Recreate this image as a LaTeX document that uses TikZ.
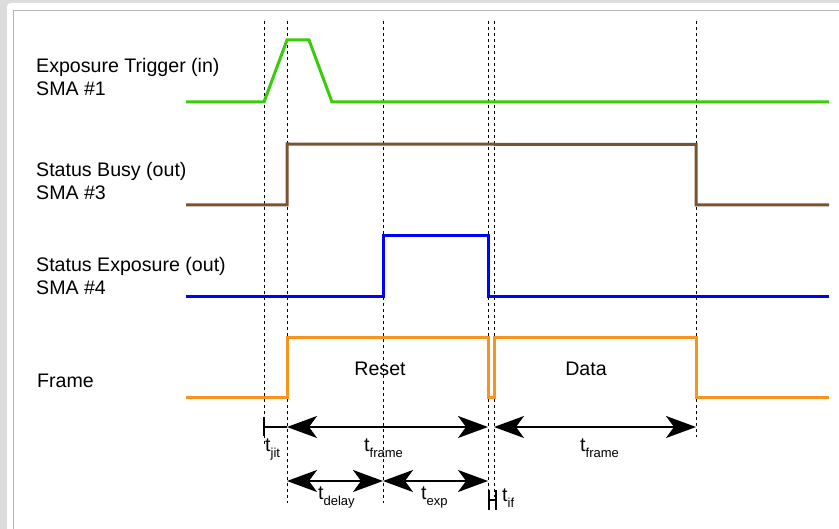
\documentclass[tikz,border=0pt]{standalone}
\usepackage{fontspec}
\setmainfont{Liberation Sans}
\usetikzlibrary{arrows.meta}
\definecolor{bggray}{RGB}{220,220,220}
\definecolor{framegray}{RGB}{180,180,180}
\definecolor{sgreen}{RGB}{56,204,10}
\definecolor{sbrown}{RGB}{122,84,48}
\definecolor{sblue}{RGB}{0,0,255}
\definecolor{sorange}{RGB}{247,148,30}
\newcommand{\tsub}[1]{t\raisebox{-0.55ex}{\fontsize{13}{13}\selectfont #1}}
\tikzset{
  sig/.style={line width=3pt, line join=miter},
  guide/.style={black, line width=0.8pt, dash pattern=on 3pt off 3pt},
  dim/.style={black, line width=2pt, {Stealth[length=30pt,width=22pt,inset=8pt]}-{Stealth[length=30pt,width=22pt,inset=8pt]}},
  lbl/.style={font=\fontsize{19.6}{23}\selectfont, align=left, inner sep=0pt},
  tlbl/.style={font=\fontsize{19.6}{23}\selectfont, inner sep=0pt, anchor=north west}
}
\begin{document}
\begin{tikzpicture}[x=1pt,y=-1pt]
\useasboundingbox (0,0) rectangle (839,529);
\fill[bggray] (0,0) rectangle (839,529);
\fill[white, rounded corners=4pt] (7,3) rectangle (850,540);
\draw[framegray, line width=1.3pt] (13.5,529) -- (13.5,10.5) -- (839,10.5);

% guides
\draw[guide] (264,21) -- (264,445);
\draw[guide] (287,21) -- (287,503);
\draw[guide] (383,21) -- (383,503);
\draw[guide] (488,21) -- (488,497);
\draw[guide] (494,21) -- (494,497);
\draw[guide] (696,21) -- (696,437);

% signals
\draw[sig, sgreen] (186,102) -- (264,102) -- (287,40) -- (309,40) -- (332,102) -- (829,102);
\draw[sig, sbrown] (186,205) -- (287,205) -- (287,144) -- (696,144.5) -- (696,205) -- (829,205);
\draw[sig, sblue] (186,297) -- (383,297) -- (383,236) -- (488,236) -- (488,297) -- (829,297);
\draw[sig, sorange] (186,398) -- (287,398) -- (287,338) -- (488,338) -- (488,398) -- (494,398) -- (494,338) -- (696,338) -- (696,398) -- (829,398);

% labels
\node[lbl, anchor=west] (l1) at (36,77) {Exposure Trigger (in)\\SMA \#1};
\node[lbl, anchor=west] (l3) at (36,181) {Status Busy (out)\\SMA \#3};
\node[lbl, anchor=west] (l4) at (36,276) {Status Exposure (out)\\SMA \#4};
\node[lbl, anchor=west] (lf) at (37,381) {Frame};
\node[lbl] (reset) at (380,369) {Reset};
\node[lbl] (data) at (586,369) {Data};

% dimension markers
\coordinate (j0) at (264,427);
\coordinate (j1) at (287,427);
\coordinate (f1) at (488,427);
\coordinate (f2) at (494,427);
\coordinate (f3) at (696,427);
\draw[black, line width=2pt] (264,417) -- (264,436);
\draw[black, line width=2pt] (j0) -- (j1);
\draw[dim] (j1) -- (f1);
\draw[dim] (f2) -- (f3);
\coordinate (d0) at (287,481);
\coordinate (d1) at (383,481);
\coordinate (d2) at (488,481);
\draw[dim] (d0) -- (d1);
\draw[dim] (d1) -- (d2);
\draw[black, line width=2.2pt] (489,490) -- (489,510) (496,490) -- (496,510) (489,500) -- (496,500);

\node[tlbl] (tjit) at (265,439) {\tsub{jit}};
\node[tlbl] (tf1) at (364,439) {\tsub{frame}};
\node[tlbl] (tf2) at (580,439) {\tsub{frame}};
\node[tlbl] (tdelay) at (318,487) {\tsub{delay}};
\node[tlbl] (texp) at (421,487) {\tsub{exp}};
\node[tlbl] (tif) at (502,489) {\tsub{if}};
\end{tikzpicture}
\end{document}
